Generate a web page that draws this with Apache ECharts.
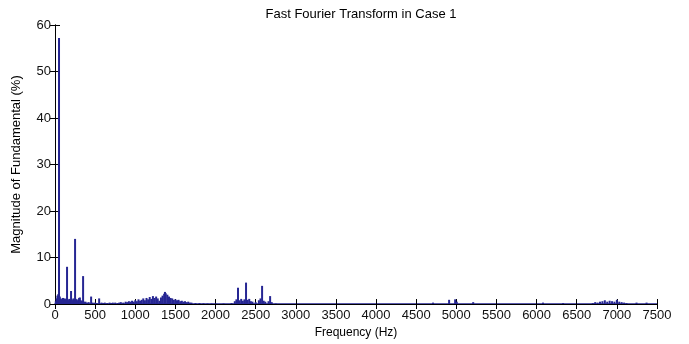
<!DOCTYPE html>
<html>
<head>
<meta charset="utf-8">
<script src="https://cdn.jsdelivr.net/npm/echarts@6/dist/echarts.min.js"></script>
<style>
  html, body { margin: 0; padding: 0; background: #fff; }
  #chart { width: 689px; height: 344px; }
</style>
</head>
<body>
<div id="chart"></div>
<script>
// FFT spectrum: frequency (Hz) -> magnitude (% of fundamental)
const freqHz = [
  10, 20, 30, 40, 50, 60, 70, 80, 90, 100, 110, 120, 130, 140, 150, 160, 170, 180, 190, 200,
  210, 220, 230, 240, 250, 260, 270, 280, 290, 300, 310, 320, 330, 340, 350, 360, 370, 380, 400, 420,
  450, 470, 500, 520, 550, 580, 600, 620, 650, 680, 700, 720, 750, 780, 800, 820, 850, 880, 900, 920,
  940, 960, 980, 1000, 1020, 1040, 1060, 1080, 1100, 1120, 1140, 1160, 1180, 1200, 1220, 1240, 1260, 1280, 1300, 1320,
  1340, 1360, 1370, 1380, 1400, 1420, 1440, 1460, 1480, 1500, 1520, 1540, 1560, 1580, 1600, 1620, 1640, 1660, 1680, 1700,
  1750, 1800, 1850, 1900, 1950, 2000, 2100, 2200, 2240, 2260, 2280, 2300, 2320, 2340, 2360, 2380, 2400, 2420, 2440, 2460,
  2500, 2540, 2560, 2580, 2600, 2620, 2660, 2680, 2700, 2750, 4710, 4910, 4985, 5005, 5210, 6080, 6330, 6700, 6730, 6760,
  6790, 6820, 6850, 6880, 6910, 6940, 6970, 7000, 7030, 7060, 7090, 7120, 7245, 7370
]
const magPct = [
  0.6, 1.2, 1.8, 2.1, 57.2, 1.6, 1.2, 1.0, 1.1, 1.3, 0.9, 1.2, 1.0, 1.1, 8.0, 1.0, 0.8, 1.1, 0.9, 2.8,
  1.0, 0.8, 1.2, 1.0, 14.0, 1.1, 0.9, 0.7, 1.0, 1.3, 1.4, 0.8, 0.6, 0.7, 6.0, 0.5, 0.4, 0.5, 0.3, 0.4,
  1.6, 0.3, 0.3, 0.2, 1.2, 0.3, 0.2, 0.3, 0.2, 0.3, 0.2, 0.3, 0.3, 0.2, 0.3, 0.4, 0.3, 0.5, 0.4, 0.6,
  0.5, 0.7, 0.5, 0.8, 0.6, 1.0, 0.7, 0.9, 1.2, 0.8, 1.3, 1.0, 1.5, 1.1, 1.7, 1.3, 1.6, 1.2, 0.7, 1.4,
  1.8, 2.2, 2.6, 2.3, 2.0, 1.6, 1.3, 1.2, 0.9, 1.0, 0.8, 0.9, 0.6, 0.7, 0.5, 0.6, 0.4, 0.5, 0.3, 0.3,
  0.2, 0.2, 0.15, 0.1, 0.1, 0.1, 0.1, 0.2, 0.6, 1.0, 3.5, 0.8, 1.1, 0.7, 1.0, 4.6, 0.9, 1.1, 0.6, 0.5,
  0.4, 0.8, 1.2, 3.9, 0.7, 0.5, 0.6, 1.7, 0.4, 0.1, 0.3, 0.9, 1.0, 0.5, 0.4, 0.3, 0.2, 0.2, 0.4, 0.3,
  0.5, 0.6, 0.8, 0.5, 0.7, 0.6, 0.5, 0.9, 0.5, 0.4, 0.3, 0.2, 0.3, 0.3
]

const X_MAX = 7500
const Y_MAX = 60
const BLUE = '#262693'
const FONT = '"Liberation Sans", Arial, sans-serif'

const points = freqHz.map(function (f, i) { return [f, magPct[i]] })

const chart = echarts.init(document.getElementById('chart'), null, { renderer: 'canvas' })

// MATLAB-style box: ticks pointing inward on all four sides
const baseAxis = {
  axisTick: { inside: true, length: 5, lineStyle: { color: '#000', width: 1 } },
  splitLine: { show: false },
}
const plain = function (v) { return String(v) }

chart.setOption({
  backgroundColor: '#fff',
  animation: false,
  title: {
    text: 'Fast Fourier Transform in Case 1',
    left: 356, top: 3, textAlign: 'center',
    textStyle: { fontSize: 13, fontWeight: 'normal', color: '#000', fontFamily: FONT },
  },
  grid: { left: 55, right: 32, top: 25, bottom: 36 },
  xAxis: [
    Object.assign({}, baseAxis, {
      type: 'value', min: 0, max: X_MAX, interval: 500,
      name: 'Frequency (Hz)', nameLocation: 'middle', nameGap: 23,
      nameTextStyle: { fontSize: 12, color: '#000', fontFamily: FONT },
      axisLine: { show: true, onZero: false, lineStyle: { color: BLUE, width: 1.5 } },
      axisLabel: { fontSize: 13, color: '#111', margin: 5, fontFamily: FONT, formatter: plain },
    }),
    Object.assign({}, baseAxis, {
      type: 'value', min: 0, max: X_MAX, interval: 500, position: 'top',
      axisLine: { show: true, lineStyle: { color: '#000', width: 1 } },
      axisLabel: { show: false },
    }),
  ],
  yAxis: [
    Object.assign({}, baseAxis, {
      type: 'value', min: 0, max: Y_MAX, interval: 10,
      name: 'Magnitude of Fundamental (%)', nameLocation: 'middle', nameGap: 32,
      nameTextStyle: { fontSize: 13, color: '#000', fontFamily: FONT },
      axisLine: { show: true, lineStyle: { color: '#000', width: 1 } },
      axisLabel: { fontSize: 13, color: '#111', margin: 4, fontFamily: FONT, formatter: plain },
    }),
    Object.assign({}, baseAxis, {
      type: 'value', min: 0, max: Y_MAX, interval: 10, position: 'right',
      axisLine: { show: true, lineStyle: { color: '#000', width: 1 } },
      axisLabel: { show: false },
    }),
  ],
  series: [{
    type: 'bar',
    xAxisIndex: 0,
    yAxisIndex: 0,
    data: points,
    barWidth: 2,
    itemStyle: { color: BLUE },
    z: 1,
  }],
})
</script>
</body>
</html>
